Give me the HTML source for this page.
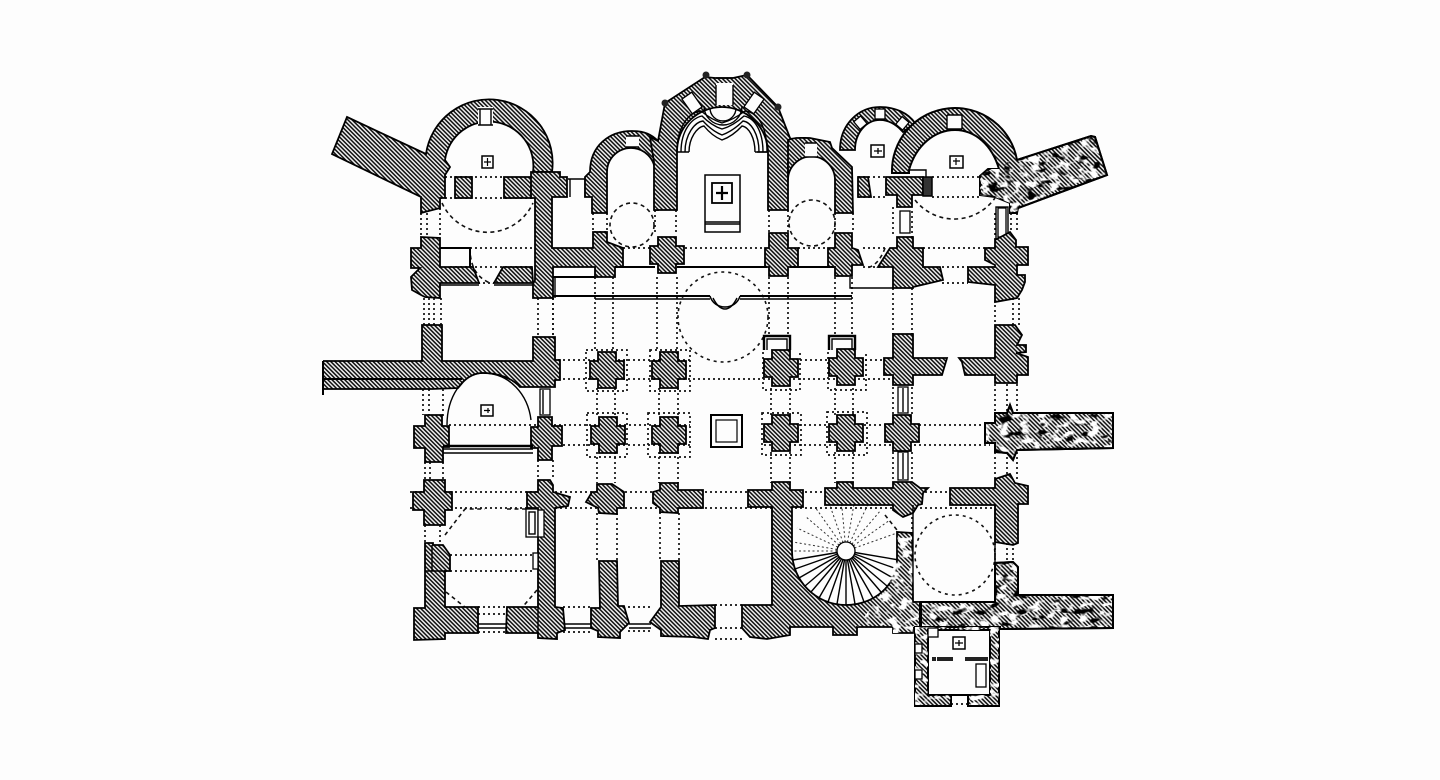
<!DOCTYPE html>
<html><head><meta charset="utf-8"><title>Church floor plan</title>
<style>
html,body{margin:0;padding:0;background:#fdfdfd;width:1440px;height:780px;overflow:hidden}
svg{display:block;filter:blur(.35px)}
.h{fill:url(#ha);stroke:#000;stroke-width:1.8;stroke-linejoin:miter}
.s{fill:url(#ha);stroke:#000;stroke-width:2}
.w{fill:#fdfdfd;stroke:#000;stroke-width:1.3}
.n{fill:#fdfdfd;stroke:none}
.l{fill:none;stroke:#000;stroke-width:1.4}
.o{fill:none;stroke:#000;stroke-width:2}
.t{fill:none;stroke:#000;stroke-width:2.4}
.d{fill:none;stroke:#111;stroke-width:1.7;stroke-dasharray:2 3}
.e{fill:none;stroke:#111;stroke-width:1.6;stroke-dasharray:4 3.5}
.f{fill:none;stroke:#333;stroke-width:1;stroke-dasharray:2 2.5}
</style></head><body>
<svg width="1440" height="780" viewBox="0 0 1440 780" xmlns="http://www.w3.org/2000/svg">
<defs>
<pattern id="ha" width="3" height="3" patternUnits="userSpaceOnUse" patternTransform="rotate(45)">
<rect width="3" height="3" fill="#eeeeee"/><rect width="3" height="1.5" fill="#111"/>
</pattern>
<filter id="mw" filterUnits="userSpaceOnUse" x="0" y="0" width="1440" height="780" color-interpolation-filters="sRGB">
<feTurbulence type="fractalNoise" baseFrequency="0.1 0.16" numOctaves="2" seed="4"/>
<feColorMatrix type="matrix" values="0 0 0 0 1  0 0 0 0 1  0 0 0 0 1  7 0 0 0 -3.5"/>
<feComposite in2="SourceAlpha" operator="in"/>
</filter>
<filter id="mb" filterUnits="userSpaceOnUse" x="0" y="0" width="1440" height="780" color-interpolation-filters="sRGB">
<feTurbulence type="fractalNoise" baseFrequency="0.08 0.13" numOctaves="2" seed="11"/>
<feColorMatrix type="matrix" values="0 0 0 0 0  0 0 0 0 0  0 0 0 0 0  8 0 0 0 -4.8"/>
<feComposite in2="SourceAlpha" operator="in"/>
</filter>
<path id="c" d="M-9,-18H9V-9H17V9H9V18H-9V9H-17V-9H-9Z"/>
<path id="wedge" d="M1017,160L1091,136L1095,137L1107,175L1018,208L1017,213H1010V203L995,197L980,195V176L988,169H999L1010,160Z"/>
<path id="wing" d="M1010,405L1013,413H1113V448L1017,450L1013,460L1007,453L995,452V443H985V423H995V413H1007Z"/>
<path id="band" d="M921,602H995V563L1013,562L1018,567V595H1113V628L1000,629V627H921Z"/>
<path id="patch" d="M880,595L897,560V532L912,533L913,602H920V627H913V633H893V627H857Z"/>
<path id="ring" fill-rule="evenodd" d="M915,627H999V706H968V695H951V706H915ZM928,630V695H990V630Z"/>
</defs>
<rect width="1440" height="780" fill="#fdfdfd"/>

<!-- dotted construction grid -->
<g class="d">
<path d="M553,360H690M765,360H890M553,379H890M449,425H690M764,425H990M553,445H690M764,445H990M410,492H1010M410,508H1010"/>
<path d="M445,177H505M440,198H533M470,248H535M450,267H540M623,248H651M685,248H765M798,248H828M863,248H885M923,248H993M863,267H885M942,267H968M942,283H968M858,177H886M932,177H980M858,197H886M932,197H980M478,283H494"/>
<path d="M597,388V415M615,388V415M597,452V483M615,452V483M659,388V415M678,388V415M659,452V483M678,452V483M771,388V415M790,388V415M771,452V483M790,452V483M835,388V415M853,388V415M835,452V483M853,452V483"/>
<path d="M893,387V414M912,387V414M893,452V482M912,452V482M995,384V413M1007,384V413M1017,384V413M995,452V480M1007,452V480M1017,452V480"/>
<path d="M553,298V350M595,277V350M613,277V350M657,277V350M677,277V350M769,277V335M788,277V335M835,277V335M852,277V335M893,288V334M912,288V334M995,300V325M1013,298V325M1019,298V325"/>
<path d="M424,298V325M429,298V325M434,298V325M441,298V325M423,389V415M429,389V415M443,389V418M425,462V480M430,462V480M443,457V480M538,298V337M553,298V337M538,460V480M553,460V480"/>
<path d="M421,213V237M427,213V237M440,208V238M655,210V233M676,210V233M769,210V233M788,210V233M835,213V233M853,213V233M893,207V237M912,211V237M995,213V240M1011,213V233M1017,213V233"/>
<path d="M597,513V561M617,513V561M660,512V561M679,513V561M995,543V563M1007,543V563M1013,543V563M912,512V533"/>
<path d="M445,555H533M445,571H533M478,607H507M478,614H507M478,632H507M563,607H591M563,632H591M628,607H652M628,631H652M715,605H742M715,628H742M715,639H742M951,695H968M951,704H968"/>
<path d="M593,213V232M607,213V232M594,212H607M594,232H607M425,525V543M440,525V543"/>
<path d="M586,350H627V391H586ZM650,350H690V391H650ZM763,352V390H800V352M828,352V390H866V352M587,413H627V457H587ZM648,413H690V457H648ZM762,413H801V455H762ZM827,412H867V455H827Z"/>
</g>
<g class="e">
<path d="M442,203A50,50 0 0 0 533,203"/>
<path d="M915,200A50,50 0 0 0 995,198"/>
<circle cx="632" cy="225" r="22"/>
<circle cx="812" cy="223" r="23"/>
<circle cx="723" cy="317" r="45" stroke-dasharray="3 4"/>
<circle cx="955" cy="555" r="40" stroke-dasharray="3 4"/>
<path d="M445,535L465,509H485M526,509H505M446,592L466,608M537,590L520,610"/>
<path d="M470,248C470,268 478,278 490,283" />
<path d="M885,248C880,262 872,268 865,268"/>
</g>

<!-- stairs -->
<g class="l">
<path d="M846,551L899,560M846,551L897,569M846,551L893,578M846,551L887,586M846,551L881,592M846,551L873,598M846,551L864,602M846,551L855,604M846,551V605M846,551L837,604M846,551L828,602M846,551L819,598M846,551L811,592M846,551L805,586M846,551L799,578M846,551L795,569M846,551L793,560"/>
</g>
<g class="f">
<path d="M846,551H792M846,551L793,542M846,551L797,528M846,551L805,516M846,551L815,507M846,551L828,500M846,551L841,497M846,551L855,498M846,551L869,502M846,551L881,510M846,551L890,520M846,551L897,533"/>
</g>
<path class="e" d="M885,515L897,530"/>
<circle cx="846" cy="551" r="9" class="w" stroke-width="2"/>

<!-- left wing + apse -->
<path class="h" d="M347,117L426,154A63,63 0 0 1 552,172H533A44,44 0 0 0 445,160L450,167L445,175V198H440V208L421,213V197L332,154Z"/>
<path class="n" d="M478,107H493V125H478Z"/>
<path class="l" d="M478,109H493M478,125H493M480,109V125M491,109V125"/>
<path class="h" d="M455,177H472V198H455ZM504,177H532V198H504Z"/>
<!-- main wall left -->
<path class="h" d="M531,172H560V177H567V197H552V248H593V232H607V242L623,248V267H615V277H595V267H553V298H533V284L535,280V198H531Z"/>
<path class="n" d="M568,178H585V197H568Z"/>
<path class="l" d="M568,179H587M570,179V197M585,179V197"/>
<!-- second apse -->
<path class="h" d="M585,177L590,172C590,145 610,131 632,131C645,131 652,135 658,141V210H655V172A24,24 0 0 0 607,172V213H592V197H585Z"/>
<path class="n" d="M626,136H639V147H626Z"/>
<path class="l" d="M626,136H639M626,147H639"/>
<!-- main apse -->
<path class="h" d="M654,210V162L650,137L658,141L665,103L705,77L715,78H733L747,75L778,107L790,138L795,142L788,162V210H768V152C767,125 745,107 722,107C699,107 677,125 677,152V210Z"/>
<circle cx="665" cy="103" r="3.5" fill="#222"/><circle cx="706" cy="75" r="3.5" fill="#222"/><circle cx="747" cy="75" r="3.5" fill="#222"/><circle cx="778" cy="107" r="3.5" fill="#222"/>
<path class="n" d="M716,83H733V105H716Z"/>
<path class="l" d="M716,78H733M716,85V105M733,85V105"/>
<rect class="w" x="686" y="94" width="12" height="18" transform="rotate(-35 692 103)"/>
<rect class="w" x="748" y="94" width="12" height="18" transform="rotate(35 754 103)"/>
<g class="l">
<path d="M677,152C677,125 690,112 701,111Q712,120 722,123Q733,120 745,111C757,112 767,125 767,152H757"/>
<path d="M681,152C681,130 692,118 702,116Q712,126 722,129Q733,126 744,116C754,118 763,130 763,152"/>
<path d="M685,152C685,134 695,122 703,121Q712,131 722,135Q733,131 743,121C751,122 759,134 759,152"/>
<path d="M689,152C689,138 697,127 704,126Q712,136 722,140Q733,136 742,126C749,127 755,138 755,152"/>
<path d="M710,108A13,13 0 0 0 736,108M704,106A19,19 0 0 0 742,106"/>
<path d="M677,152H689M755,152H767"/>
</g>
<!-- altar -->
<rect x="705" y="175" width="35" height="57" fill="#fdfdfd" stroke="#000" stroke-width="1.5"/>
<path class="l" d="M705,222H740M705,224H740"/>
<rect x="712" y="183" width="20" height="20" fill="#fdfdfd" stroke="#000" stroke-width="1.8"/>
<path d="M722,186V200M716,193H728" stroke="#000" stroke-width="2.2" fill="none"/>

<!-- right mid apse -->
<path class="h" d="M788,140C795,137 802,138 810,138L830,142L832,148L852,167L853,213H835V180A23.5,23.5 0 0 0 788,180Z"/>
<path class="n" d="M805,143H817V157H805Z"/>
<path class="l" d="M805,143H817M805,157H817"/>
<!-- small apse -->
<path class="h" d="M840,150C840,125 858,107 880,107C895,107 908,113 915,123L903,132C896,124 888,120 880,120C866,120 855,133 855,150Z"/>
<rect class="w" x="856" y="118" width="9" height="10" transform="rotate(-40 860 123)"/>
<rect class="w" x="875" y="109" width="10" height="10"/>
<rect class="w" x="898" y="118" width="9" height="10" transform="rotate(40 902 123)"/>
<path class="h" d="M858,177H868L871,197H858Z"/>
<rect x="871" y="145" width="13" height="12" fill="#fdfdfd" stroke="#000" stroke-width="1.5"/>
<path d="M878,148V154M874,151H882" stroke="#000" stroke-width="1.3"/>
<!-- right apse + wing -->
<path class="s" d="M892,173A63,63 0 0 1 1017,160L1091,136L1095,137L1107,175L1018,208L1017,213H1010V203L995,197L980,195V176L988,169H999C992,145 975,130 955,130C935,130 916,145 909,170V173Z"/>
<g filter="url(#mw)"><use href="#wedge"/></g>
<g filter="url(#mb)"><use href="#wedge"/></g>
<path class="o" d="M1017,160L1091,136L1095,137L1107,175L1018,208"/>
<path class="n" d="M947,115H962V129H947Z"/>
<path class="l" d="M947,115H962M947,129H962M947,115V129M962,115V129"/>
<path class="h" d="M886,177H923V195H912V207H897V195H886Z"/>
<path d="M923,177H932V196H923Z" fill="#333" stroke="#000" stroke-width="1.5"/>
<path class="l" d="M909,170H926V177"/>
<rect class="w" x="998" y="208" width="8" height="29"/>
<rect class="l" x="996" y="207" width="12" height="32"/>
<rect class="w" x="900" y="211" width="10" height="22"/>
<!-- upper piers -->
<path class="h" d="M421,237L440,238V267H473L479,283H440V298L425,297L421,295L412,290L411,277L420,268H411V248H421Z"/>
<path class="h" d="M503,267H532L533,283H494Z"/>
<path class="o" d="M440,248H470V267"/>
<path class="l" d="M440,285H479M494,285H533"/>
<use href="#c" x="667" y="255" class="h"/>
<path class="h" d="M769,233H788V248H798V267H788V276H769V267H765V248H769Z"/>
<path class="h" d="M835,233H852V248L858,250L863,265H852V276H835V267H828V248H835Z"/>
<path class="h" d="M897,237H913V248H923V267H940L943,280L913,287V288H893V267H878L890,248H897Z"/>
<path class="h" d="M995,240L1010,232L1016,240V247H1028V265H1017V275H1025V282L1022,290L1017,298L995,302V285L968,282V267H995V265L985,260V248H995Z"/>
<path class="o" d="M615,267H655M677,267H767M790,267H835M553,277H595M553,296H710M740,296H852"/>
<path class="l" d="M555,277V298M595,299H710M740,299H852M850,277V288H893"/>
<path class="l" stroke-width="1.6" d="M710,296C712,303 718,307 725,307C732,307 738,303 740,296"/>
<path class="l" d="M713,298C716,304 720,309 725,309C730,309 734,304 737,298"/>

<!-- west wall -->
<path class="h" d="M323,361H422V325H442V361H533V337H555V360H560V380H555V387H520C512,378 498,373 483,373C475,373 468,377 463,382L458,388L432,389H323V395"/>
<path class="l" style="stroke-width:2" d="M323,379H462M323,361V395"/>
<path class="l" d="M447,425C447,398 462,373 483,373C510,373 528,395 531,420"/>
<rect x="481" y="405" width="12" height="11" fill="#fdfdfd" stroke="#000" stroke-width="1.5"/>
<path d="M484,410.5H490M488,408V413" stroke="#000" stroke-width="1.2"/>
<rect class="w" x="540" y="389" width="10" height="26"/><path class="l" d="M543,390V414"/>
<!-- row 2 -->
<path class="h" d="M425,415H442V426H449V447H443V462H425V448H414V426H425Z"/>
<path class="h" d="M538,417H552V426H562V446H552V460H538V448H531V427H538Z"/>
<path class="t" d="M443,446H533"/><path class="l" d="M443,449H533M443,453H533"/>
<!-- free piers -->
<g class="h">
<use href="#c" x="607" y="370"/><use href="#c" x="669" y="370"/>
<use href="#c" x="781" y="368"/><use href="#c" x="846" y="367"/>
<use href="#c" x="608" y="435"/><use href="#c" x="669" y="435"/>
<use href="#c" x="781" y="433"/><use href="#c" x="846" y="433"/><use href="#c" x="902" y="433"/>
</g>
<path class="t" d="M764,350V336H790V350M829,350V336H855V350" stroke-width="1.8"/>
<path class="l" d="M767,350V339H787V350M832,350V339H852V350"/>
<rect x="711" y="415" width="31" height="32" fill="none" stroke="#000" stroke-width="2"/>
<rect x="716" y="420" width="21" height="22" fill="none" stroke="#000" stroke-width="1.2"/>
<!-- right side row 1 -->
<path class="h" d="M893,334H913V358H947L942,375H913V385H893V375H884V358H893Z"/>
<path class="h" d="M959,358H995V325H1015L1022,335L1017,345H1026V352L1016,353L1028,357V375H1017V383H995V375H965L962,362Z"/>
<!-- windows mid -->
<rect class="w" x="898" y="387" width="10" height="26"/><path class="l" d="M903,388V412"/>
<rect class="w" x="898" y="452" width="10" height="28"/><path class="l" d="M903,453V479"/>
<!-- right wing 2 -->
<path class="s" d="M1010,405L1013,413H1113V448L1017,450L1013,460L1007,453L995,452V443H985V423H995V413H1007Z"/>
<g filter="url(#mw)"><use href="#wing"/></g>
<g filter="url(#mb)"><use href="#wing"/></g>
<path class="o" d="M1010,405L1013,413H1113V448L1017,450L1013,460L1007,453L995,452V443H985V423H995V413H1007Z"/>
<!-- row 3 -->
<path class="h" d="M424,480H445V492H452V510H445V525H424V510H413V492H424Z"/>
<path class="h" d="M538,480H550L553,485V492L570,497L568,506L555,508V607L563,608L565,630L557,633V639L538,638V633H506L507,607H538V508H527V492H538Z"/>
<path class="l" d="M538,607V633"/>
<rect class="w" x="526" y="509" width="12" height="28"/><rect class="l" x="529" y="512" width="6" height="22"/>
<rect class="w" x="538" y="510" width="6" height="27"/>
<rect class="w" x="533" y="553" width="5" height="16"/>
<path class="h" d="M597,484H612L624,492V508H617V514L599,513L598,508L586,502L592,492H597Z"/>
<path class="h" d="M660,483H678V490H703V508H678V513L660,512V508L653,503V492L660,490Z"/>
<path class="h" d="M599,561H617L618,606H624L629,623L620,632V638L598,637V631L591,628V608H600Z"/>
<path class="h" d="M661,561H679V606L715,605V628L710,630L708,639L693,637L661,636V630L650,622L661,607Z"/>
<path class="h" d="M425,543H433V545H443L450,555V571H445V607H478V633H445V639L414,640V608H425Z"/>
<path class="l" d="M432,545V571M425,571H445"/>
<path class="l" d="M478,624H506M478,628H506M565,624H591M565,628H591M629,624H651M629,628H651"/>
<path class="h" d="M825,488H837V482H853V488H893V482H912L920,488H928L923,493L922,504L918,505L913,513L903,517L893,510V505H825Z"/>
<path class="h" d="M950,488H995V479L1010,474L1015,483L1028,486V504H1018V543L1013,545L995,542V505H950Z"/>
<!-- stair mass -->
<path class="h" d="M748,490H772V482H790V490H803V507H792V551C792,581 816,605 846,605C874,605 897,585 897,560V532L912,533L913,602H920V627H913V633H893V627H857V635H833V627H790V635L767,639L750,637L742,628V605H772V507H748Z"/>
<!-- south-east band -->
<path class="s" d="M921,602H995V563L1013,562L1018,567V595H1113V628L1000,629V627H921Z"/>
<g filter="url(#mw)"><use href="#band"/><use href="#patch"/></g>
<g filter="url(#mb)"><use href="#band"/></g>
<path class="o" d="M921,602H995V563L1013,562L1018,567V595H1113V628L1000,629V627H921Z"/>
<path class="l" d="M913,505V602H995V505M772,507V605"/>
<path class="o" d="M920,602V627"/>
<!-- annex -->
<path class="s" fill-rule="evenodd" d="M915,627H999V706H968V695H951V706H915ZM928,630V695H990V630Z"/>
<g filter="url(#mw)"><use href="#ring"/></g>
<rect class="w" x="928" y="628" width="10" height="9"/>
<rect class="w" x="915" y="644" width="7" height="9"/>
<rect class="w" x="915" y="670" width="7" height="9"/>
<rect x="953" y="637" width="12" height="12" fill="#fdfdfd" stroke="#000" stroke-width="1.5"/>
<path d="M959,640V646M955,643H963" stroke="#000" stroke-width="1.3"/>
<path d="M932,659H936M937,659H953M965,659H988" stroke="#222" stroke-width="4" fill="none"/>
<rect class="w" x="976" y="664" width="10" height="23"/>
<path class="o" d="M915,706H951M968,706H999"/>
<!-- small altar squares -->
<rect x="482" y="156" width="11" height="12" fill="#fdfdfd" stroke="#000" stroke-width="1.5"/>
<path d="M487.5,158V166M484,162H491" stroke="#000" stroke-width="1.2"/>
<rect x="950" y="156" width="13" height="12" fill="#fdfdfd" stroke="#000" stroke-width="1.5"/>
<path d="M956,158V165M953,161H960" stroke="#000" stroke-width="1.2"/>
</svg>
</body></html>
